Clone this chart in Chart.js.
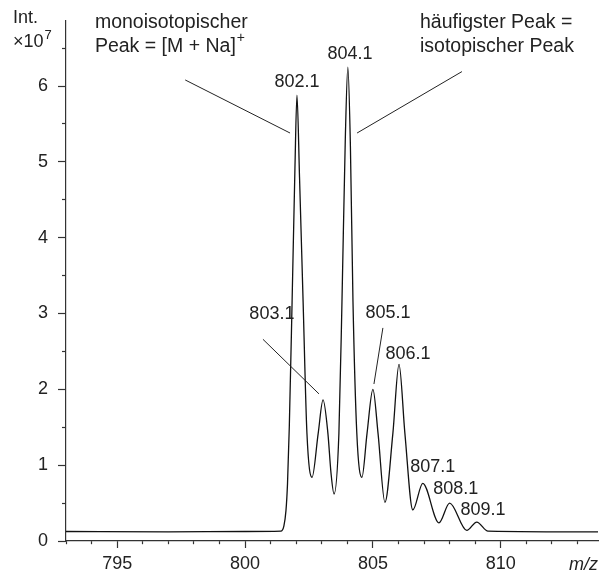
<!DOCTYPE html>
<html lang="de">
  <head>
    <meta charset="UTF-8" />
    <title>Massenspektrum</title>
    <style>
      body { margin: 0; background: #fff; }
      #spec { display: block; }
    </style>
  </head>
  <body>
    <canvas id="spec" width="609" height="573"></canvas>

    <script src="https://cdn.jsdelivr.net/npm/chart.js"></script>
    <script>
      // m/z values and intensity (x 10^7)
      const mz = [
        793.0, 797.0, 800.0, 801.4, 801.52, 801.6, 801.66, 801.73, 801.84,
        801.95, 802.03, 802.13, 802.27, 802.42, 802.62, 802.86, 803.05,
        803.24, 803.36, 803.48, 803.67, 803.79, 803.92, 804.02, 804.12,
        804.22, 804.37, 804.57, 804.77, 805.0, 805.2, 805.47, 805.78, 806.02,
        806.25, 806.56, 806.95, 807.58, 808.0, 808.67, 809.06, 809.5, 813.8,
      ];
      const intensity = [
        0.125, 0.12, 0.125, 0.13, 0.2, 0.4, 0.75, 1.5, 3.16,
        4.9, 5.88, 4.8, 3.16, 1.42, 0.84, 1.42, 1.86,
        1.42, 0.9, 0.62, 1.42, 3.16, 5.3, 6.25, 5.2,
        3.16, 1.42, 0.84, 1.42, 2.0, 1.42, 0.51, 1.42, 2.33,
        1.42, 0.41, 0.76, 0.24, 0.5, 0.14, 0.25, 0.13, 0.12,
      ];

      const xTickLabels = [795, 800, 805, 810];
      const yTickLabels = [0, 1, 2, 3, 4, 5, 6];

      const peakLabels = ["802.1", "803.1", "804.1", "805.1", "806.1", "807.1", "808.1", "809.1"];
      const peakLabelMz = [802.03, 801.05, 804.1, 805.59, 806.37, 807.34, 808.24, 809.3];
      const peakLabelInt = [6.05, 2.99, 6.42, 3.0, 2.47, 0.97, 0.68, 0.41];

      // leader lines [mz1, int1, mz2, int2]
      const leaders = [
        [800.7, 2.66, 802.89, 1.94],
        [805.39, 2.81, 805.04, 2.07],
        [797.66, 6.08, 801.76, 5.38],
        [808.48, 6.19, 804.38, 5.38],
      ];

      const ink = "#222";
      const font = "'Liberation Sans', Arial, sans-serif";

      const annotate = {
        id: "annotate",
        afterDraw(chart) {
          const { ctx } = chart;
          const x = chart.scales.x;
          const y = chart.scales.y;
          const px = (v) => x.getPixelForValue(v);
          const py = (v) => y.getPixelForValue(v);
          ctx.save();
          ctx.fillStyle = ink;
          ctx.strokeStyle = ink;
          ctx.lineWidth = 1;
          ctx.textBaseline = "middle";

          // peak labels
          ctx.font = "18px " + font;
          ctx.textAlign = "center";
          peakLabels.forEach((t, i) => {
            ctx.fillText(t, px(peakLabelMz[i]), py(peakLabelInt[i]));
          });

          leaders.forEach((l) => {
            ctx.beginPath();
            ctx.moveTo(px(l[0]), py(l[1]));
            ctx.lineTo(px(l[2]), py(l[3]));
            ctx.stroke();
          });

          // text blocks
          ctx.font = "19.5px " + font;
          ctx.textAlign = "left";
          const lx = px(794.13);
          ctx.fillText("monoisotopischer", lx, py(6.84));
          const l2 = "Peak = [M + Na]";
          ctx.fillText(l2, lx, py(6.52));
          const w2 = ctx.measureText(l2).width;
          ctx.font = "14px " + font;
          ctx.fillText("+", lx + w2 + 1, py(6.52) - 8);

          ctx.font = "19.5px " + font;
          const rx = px(806.84);
          ctx.fillText("häufigster Peak =", rx, py(6.84));
          ctx.fillText("isotopischer Peak", rx, py(6.52));

          // axis captions
          const left = chart.chartArea.left;
          ctx.font = "18px " + font;
          ctx.fillText("Int.", left - 53, 18);
          ctx.fillText("×10", left - 53, 42);
          const w3 = ctx.measureText("×10").width;
          ctx.font = "13px " + font;
          ctx.fillText("7", left - 53 + w3 + 1, 35);

          ctx.font = "italic 18px " + font;
          ctx.textAlign = "right";
          ctx.fillText("m/z", chart.chartArea.right, 565);
          ctx.restore();
        },
      };

      new Chart(document.getElementById("spec"), {
        type: "line",
        data: {
          datasets: [
            {
              data: mz.map((m, i) => ({ x: m, y: intensity[i] })),
              borderColor: "#111",
              borderWidth: 1.3,
              pointRadius: 0,
              fill: false,
              cubicInterpolationMode: "monotone",
            },
          ],
        },
        options: {
          responsive: false,
          animation: false,
          layout: { padding: { top: 18, right: 11, left: 0, bottom: 0 } },
          plugins: { legend: { display: false }, tooltip: { enabled: false } },
          scales: {
            x: {
              type: "linear",
              min: 793,
              max: 813.8,
              afterFit: (s) => { s.height = 32; },
              border: { color: "#333", width: 1.2 },
              grid: {
                drawOnChartArea: false,
                tickLength: 7,
                color: "#333",
                tickWidth: 1.2,
                tickBorderDash: (c) => (xTickLabels.includes(c.tick && c.tick.value) ? [] : [3, 30]),
              },
              ticks: {
                stepSize: 1,
                includeBounds: false,
                autoSkip: false,
                maxRotation: 0,
                padding: 5,
                color: ink,
                font: { size: 18, family: font },
                callback: (v) => (xTickLabels.includes(v) ? String(v) : ""),
              },
            },
            y: {
              min: 0,
              max: 6.86,
              afterFit: (s) => { s.width = 66; },
              border: { color: "#333", width: 1.2 },
              grid: {
                drawOnChartArea: false,
                tickLength: 8,
                color: "#333",
                tickWidth: 1.2,
                tickBorderDash: (c) => (yTickLabels.includes(c.tick && c.tick.value) ? [] : [4, 4]),
                tickBorderDashOffset: (c) => (yTickLabels.includes(c.tick && c.tick.value) ? 0 : 4),
              },
              ticks: {
                stepSize: 0.5,
                includeBounds: false,
                autoSkip: false,
                padding: 10,
                color: ink,
                font: { size: 18, family: font },
                callback: (v) => (yTickLabels.includes(v) ? String(v) : ""),
              },
            },
          },
        },
        plugins: [annotate],
      });
    </script>
  </body>
</html>
